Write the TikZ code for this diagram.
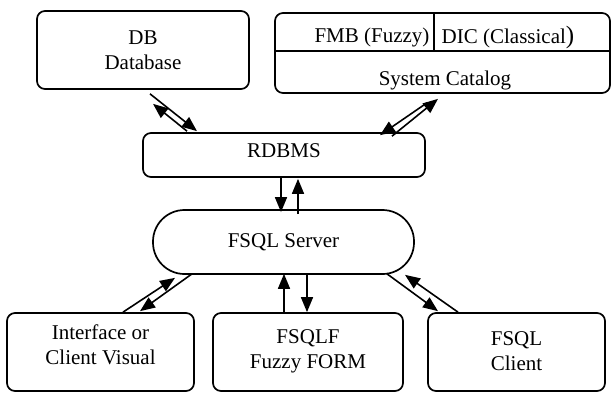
\documentclass[tikz,border=0pt]{standalone}
\usepackage{fontspec}
\setmainfont{Liberation Serif}
\usetikzlibrary{arrows.meta}
\begin{document}
\begin{tikzpicture}[x=1pt,y=-1pt,
  box/.style={draw,line width=1.7pt,rounded corners=8pt,inner sep=0pt},
  txt/.style={font=\fontsize{21}{25}\selectfont,align=center,inner sep=0pt},
  arr/.style={line width=1.6pt,-{Triangle[length=15pt,width=12pt]}},
  ln/.style={line width=1.7pt}]
\useasboundingbox (0,0) rectangle (611,394);
% top boxes
\node[box,minimum width=212pt,minimum height=78pt,txt] (db) at (143,50) {DB\\Database};
\node[box,minimum width=335pt,minimum height=80pt] (cat) at (442.5,53) {};
\draw[ln] ([yshift=-39pt]cat.north west) -- ([yshift=-39pt]cat.north east);
\draw[ln] ([xshift=-8.5pt]cat.north) -- ([xshift=-8.5pt,yshift=-39pt]cat.north);
\node[txt] (fmb) at (372,37) {FMB (Fuzzy)};
\node[txt] (dic) at (508,37) {DIC (Classical{\fontsize{25}{25}\selectfont)}};
\node[txt] (sc) at (445,80) {System Catalog};
% middle
\node[box,minimum width=282pt,minimum height=44pt] (rdbms) at (284,155) {};
\node[txt] (rdbmst) at (284,151) {RDBMS};
\node[box,rounded corners=31.5pt,minimum width=261pt,minimum height=64pt,txt] (srv) at (283.5,242) {FSQL Server};
% bottom boxes
\node[box,minimum width=187pt,minimum height=78pt] (iface) at (100.5,352) {};
\node[txt] (ifacet) at (100.5,345) {Interface or\\Client Visual};
\node[box,minimum width=190pt,minimum height=78pt] (fsqlf) at (308,352) {};
\node[txt] (fsqlft) at (308,351) {FSQLF\\Fuzzy FORM};
\node[box,minimum width=177pt,minimum height=78pt] (client) at (516.5,352) {};
\node[txt] (clientt) at (516.5,351) {FSQL\\Client};
% DB <-> RDBMS
\draw[arr] ([shift={(7,4)}]db.south) -- ([shift={(-87,-1)}]rdbms.north);
\draw[arr] ([shift={(-97,-1)}]rdbms.north) -- ([shift={(10,14)}]db.south);
% Catalog <-> RDBMS
\draw[arr] ([shift={(108,4)}]rdbms.north) -- ([shift={(-4.5,5)}]cat.south);
\draw[arr] ([shift={(-15.5,9)}]cat.south) -- ([shift={(96,3)}]rdbms.north);
% RDBMS <-> Server
\draw[arr] ([xshift=-3pt]rdbms.south) -- ([shift={(-2.5,3)}]srv.north);
\draw[arr] ([shift={(14.5,5)}]srv.north) -- ([shift={(14,1)}]rdbms.south);
% Server <-> FSQLF
\draw[arr] ([xshift=-24pt]fsqlf.north) -- ([shift={(0.5,-1)}]srv.south);
\draw[arr] ([shift={(23.5,-1)}]srv.south) -- ([xshift=-1pt]fsqlf.north);
% Server <-> Interface
\draw[arr] ([xshift=22.5pt]iface.north) -- ([shift={(-108.5,3)}]srv.south);
\draw[arr] ([shift={(-91.5,-1)}]srv.south) -- ([shift={(39.5,-1)}]iface.north);
% Server <-> Client
\draw[arr] ([shift={(103.5,-1)}]srv.south) -- ([shift={(-78.5,-1)}]client.north);
\draw[arr] ([xshift=-58.5pt]client.north) -- ([shift={(121.5,0)}]srv.south);
\end{tikzpicture}
\end{document}
